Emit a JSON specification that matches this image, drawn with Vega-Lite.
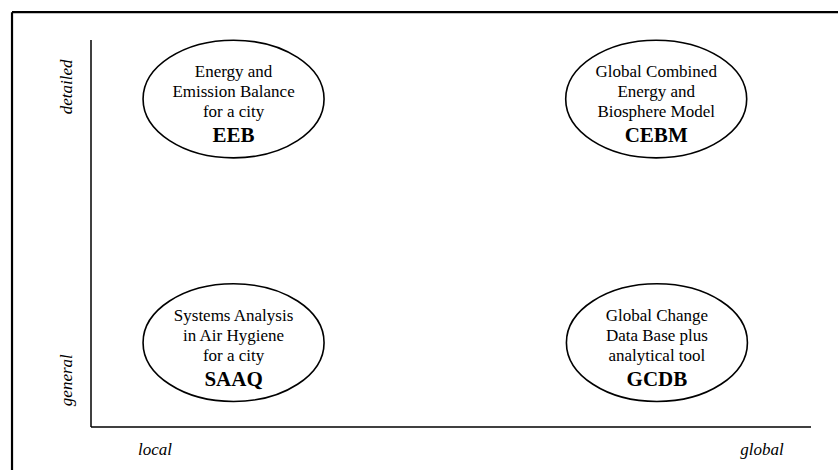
{
  "$schema": "https://vega.github.io/schema/vega-lite/v6.json",
  "width": 720,
  "height": 387,
  "autosize": {"type": "none"},
  "padding": {"left": 91, "top": 40, "right": 27, "bottom": 43},
  "background": "white",
  "config": {"view": {"stroke": null}},
  "layer": [
    {
      "data": {"values": [
        {"x": -10.97, "x2": -10.97, "y": 107.2, "y2": -15},
        {"x": -10.97, "x2": 106, "y": 107.2, "y2": 107.2}
      ]},
      "mark": {"type": "rule", "color": "black", "strokeWidth": 2.2},
      "encoding": {
        "x": {"field": "x", "type": "quantitative", "scale": {"domain": [0, 100], "nice": false, "zero": false}, "axis": null},
        "x2": {"field": "x2"},
        "y": {"field": "y", "type": "quantitative", "scale": {"domain": [0, 100], "nice": false, "zero": false}, "axis": null},
        "y2": {"field": "y2"}
      }
    },
    {
      "data": {"values": [
        {"x": 0, "x2": 0, "y": 0, "y2": 100},
        {"x": 0, "x2": 100, "y": 0, "y2": 0}
      ]},
      "mark": {"type": "rule", "color": "black", "strokeWidth": 1.5},
      "encoding": {
        "x": {"field": "x", "type": "quantitative"},
        "x2": {"field": "x2"},
        "y": {"field": "y", "type": "quantitative"},
        "y2": {"field": "y2"}
      }
    },
    {
      "data": {"name": "models", "values": [
        {"code": "EEB", "desc": "Energy and\nEmission Balance\nfor a city", "scope": 19.8, "detail": 84.75},
        {"code": "CEBM", "desc": "Global Combined\nEnergy and\nBiosphere Model", "scope": 78.5, "detail": 84.75},
        {"code": "SAAQ", "desc": "Systems Analysis\nin Air Hygiene\nfor a city", "scope": 19.8, "detail": 21.8},
        {"code": "GCDB", "desc": "Global Change\nData Base plus\nanalytical tool", "scope": 78.6, "detail": 21.8}
      ]},
      "layer": [
        {
          "mark": {
            "type": "point",
            "shape": "M-1,0A1,0.65,0,1,1,1,0A1,0.65,0,1,1,-1,0Z",
            "size": 32761,
            "filled": false,
            "fill": "white",
            "fillOpacity": 1,
            "stroke": "black",
            "strokeWidth": 1.6,
            "opacity": 1
          },
          "encoding": {
            "x": {"field": "scope", "type": "quantitative"},
            "y": {"field": "detail", "type": "quantitative"}
          }
        },
        {
          "mark": {
            "type": "text",
            "font": "Liberation Serif",
            "fontSize": 17,
            "lineBreak": "\n",
            "lineHeight": 20,
            "align": "center",
            "baseline": "alphabetic",
            "dy": -22,
            "color": "black"
          },
          "encoding": {
            "x": {"field": "scope", "type": "quantitative"},
            "y": {"field": "detail", "type": "quantitative"},
            "text": {"field": "desc"}
          }
        },
        {
          "mark": {
            "type": "text",
            "font": "Liberation Serif",
            "fontSize": 21,
            "fontWeight": "bold",
            "align": "center",
            "baseline": "alphabetic",
            "dy": 43,
            "color": "black"
          },
          "encoding": {
            "x": {"field": "scope", "type": "quantitative"},
            "y": {"field": "detail", "type": "quantitative"},
            "text": {"field": "code"}
          }
        }
      ]
    },
    {
      "data": {"values": [
        {"label": "local", "x": 8.9, "y": -7.3},
        {"label": "global", "x": 93.2, "y": -7.3}
      ]},
      "mark": {
        "type": "text",
        "font": "Liberation Serif",
        "fontSize": 17,
        "fontStyle": "italic",
        "align": "center",
        "baseline": "alphabetic",
        "color": "black"
      },
      "encoding": {
        "x": {"field": "x", "type": "quantitative"},
        "y": {"field": "y", "type": "quantitative"},
        "text": {"field": "label"}
      }
    },
    {
      "data": {"values": [
        {"label": "detailed", "x": -2.6, "y": 87.9},
        {"label": "general", "x": -2.6, "y": 12.1}
      ]},
      "mark": {
        "type": "text",
        "font": "Liberation Serif",
        "fontSize": 17,
        "fontStyle": "italic",
        "align": "center",
        "baseline": "alphabetic",
        "angle": 270,
        "color": "black"
      },
      "encoding": {
        "x": {"field": "x", "type": "quantitative"},
        "y": {"field": "y", "type": "quantitative"},
        "text": {"field": "label"}
      }
    }
  ]
}
